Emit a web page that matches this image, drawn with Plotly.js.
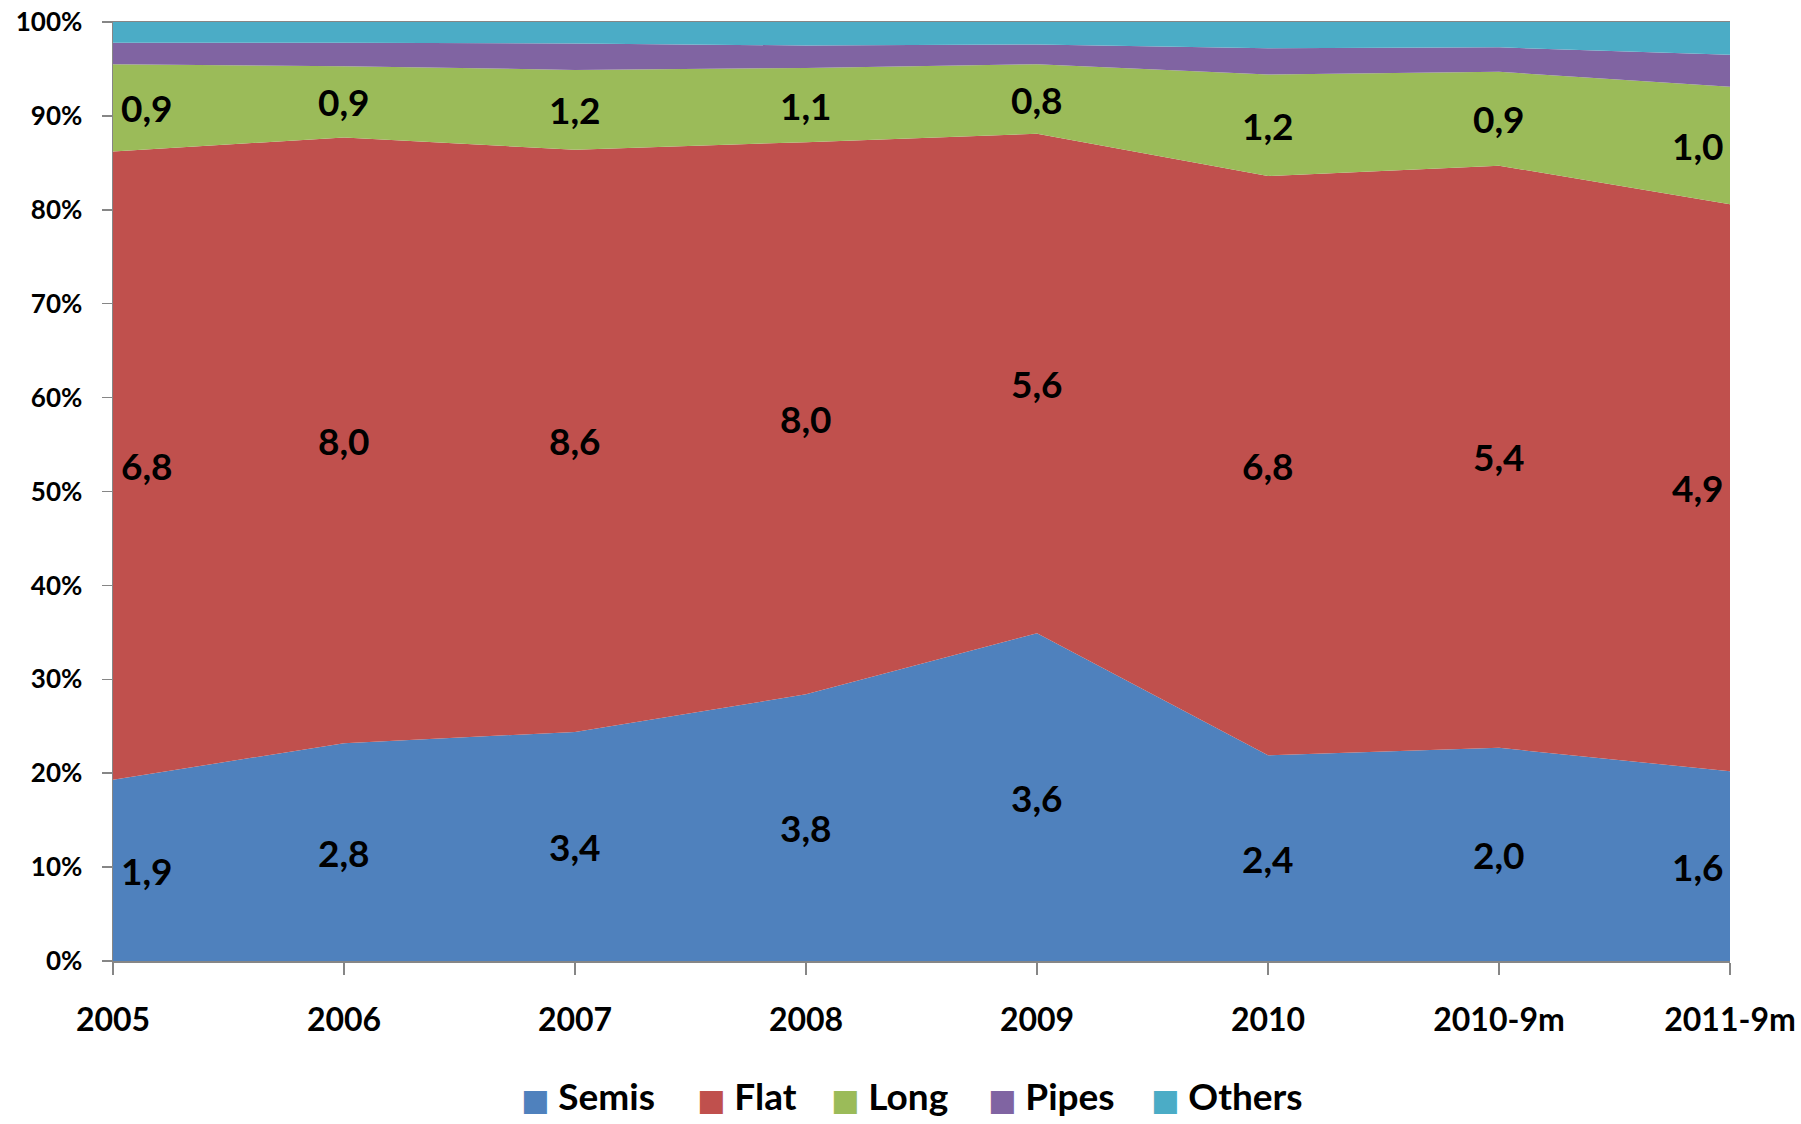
<!DOCTYPE html>
<html>
<head>
<meta charset="utf-8">
<script src="https://cdn.plot.ly/plotly-3.0.1.min.js"></script>
<style>
  html, body { margin: 0; padding: 0; background: #ffffff; }
  #chart { width: 1801px; height: 1124px; }
</style>
</head>
<body>
<div id="chart"></div>
<script>
// Categories (x axis)
const categories = ['2005', '2006', '2007', '2008', '2009', '2010', '2010-9m', '2011-9m'];

// Shares (% of total)
const semis  = [19.3, 23.2, 24.4, 28.4, 34.9, 21.9, 22.7, 20.2];
const flat   = [66.9, 64.5, 62.0, 58.8, 53.2, 61.7, 62.0, 60.4];
const long_  = [9.3, 7.6, 8.5, 7.9, 7.4, 10.8, 10.0, 12.5];
const pipes  = [2.3, 2.5, 2.8, 2.4, 2.1, 2.8, 2.6, 3.4];
const others = [2.2, 2.2, 2.3, 2.5, 2.4, 2.8, 2.7, 3.5];

// Data labels (absolute volumes shown on the chart)
const semisLabels = ['1,9', '2,8', '3,4', '3,8', '3,6', '2,4', '2,0', '1,6'];
const flatLabels  = ['6,8', '8,0', '8,6', '8,0', '5,6', '6,8', '5,4', '4,9'];
const longLabels  = ['0,9', '0,9', '1,2', '1,1', '0,8', '1,2', '0,9', '1,0'];

// Y tick values
const yTicks = [0, 10, 20, 30, 40, 50, 60, 70, 80, 90, 100];

const seriesNames  = ['Semis', 'Flat', 'Long', 'Pipes', 'Others'];
const seriesValues = [semis, flat, long_, pipes, others];
const seriesColors = ['#4F81BD', '#C0504D', '#9BBB59', '#8064A2', '#4BACC6'];

const FONT = 'Lato, "Open Sans", "DejaVu Sans", sans-serif';

const traces = seriesNames.map((name, i) => ({
  type: 'scatter',
  mode: 'lines',
  name: name,
  x: categories,
  y: seriesValues[i],
  stackgroup: 'one',
  line: { width: 0, color: seriesColors[i] },
  fillcolor: seriesColors[i],
  hoverinfo: 'skip',
  showlegend: false
}));

// Labels centred in their bands, computed from the data
const annotations = [];
const labelSets = [semisLabels, flatLabels, longLabels];
categories.forEach((cat, j) => {
  let base = 0;
  labelSets.forEach((labels, k) => {
    const v = seriesValues[k][j];
    const mid = base + v / 2;
    base += v;
    let xanchor = 'center', xshift = 0;
    if (j === 0) { xanchor = 'left'; xshift = 6; }
    if (j === categories.length - 1) { xanchor = 'right'; xshift = -4; }
    annotations.push({
      x: j, y: mid, xref: 'x', yref: 'y',
      text: labels[j], showarrow: false,
      xanchor: xanchor, yanchor: 'middle', xshift: xshift,
      font: { family: FONT, size: 37, color: '#000000', weight: 700 }
    });
  });
});

// Legend (square swatch + name), laid out below the plot
const PLOT_L = 113, PLOT_W = 1801 - 113 - 71, PLOT_T = 22, PLOT_H = 1124 - 22 - 163;
const legendLeftPx = [520, 696, 830, 987, 1150];
const legendCenterYPx = 1095;
seriesNames.forEach((name, i) => {
  annotations.push({
    xref: 'paper', yref: 'paper',
    x: (legendLeftPx[i] - PLOT_L) / PLOT_W,
    y: (PLOT_T + PLOT_H - legendCenterYPx) / PLOT_H,
    xanchor: 'left', yanchor: 'middle',
    showarrow: false, borderpad: 0,
    text: "<span style='color:" + seriesColors[i] + ";font-size:30px'>\u25A0</span>\u00A0" + name,
    font: { family: FONT, size: 37, color: '#000000', weight: 700 }
  });
});

const layout = {
  width: 1801,
  height: 1124,
  paper_bgcolor: '#ffffff',
  plot_bgcolor: '#ffffff',
  margin: { l: PLOT_L, r: 71, t: PLOT_T, b: 163 },
  showlegend: false,
  xaxis: {
    type: 'category',
    range: [0, categories.length - 1],
    showline: true, linecolor: '#868686', linewidth: 1.5,
    mirror: true,
    ticks: 'outside', ticklen: 12, tickwidth: 1.5, tickcolor: '#868686',
    ticklabelstandoff: 18,
    showgrid: false, zeroline: false,
    tickfont: { family: FONT, size: 32, color: '#000000', weight: 700 },
    fixedrange: true
  },
  yaxis: {
    range: [0, 100],
    tickvals: yTicks,
    ticktext: yTicks.map(v => v + '%'),
    showline: true, linecolor: '#868686', linewidth: 1.5,
    ticks: 'outside', ticklen: 10, tickwidth: 1.5, tickcolor: '#868686',
    ticklabelstandoff: 14,
    showgrid: false, zeroline: false,
    tickfont: { family: FONT, size: 26, color: '#000000', weight: 700 },
    fixedrange: true
  },
  annotations: annotations,
  hovermode: false
};

Plotly.newPlot('chart', traces, layout, { staticPlot: true, displayModeBar: false });
</script>
</body>
</html>
